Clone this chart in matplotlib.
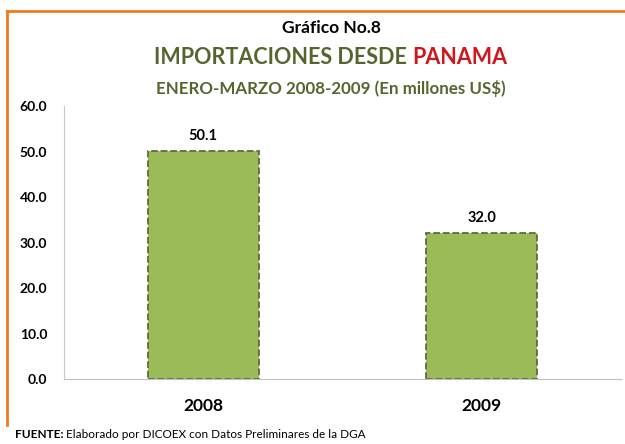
import matplotlib
matplotlib.use("Agg")
import matplotlib.pyplot as plt

plt.rcParams['font.family'] = ['Lato', 'DejaVu Sans']

years = ['2008', '2009']
valores = [50.1, 32.0]
yticks = [0, 10, 20, 30, 40, 50, 60]

verde = '#9BBB59'
verde_osc = '#56652E'

fig = plt.figure(figsize=(6.25, 4.44), dpi=100)
ax = fig.add_axes([64/625, 1-379/444, 557/625, 273/444])

x = range(len(years))
bars = ax.bar(x, valores, width=0.40, color=verde, edgecolor='#5C6B45',
              linewidth=1.3, linestyle='--')
for b, v in zip(bars, valores):
    ax.text(b.get_x() + b.get_width()/2, v + 1.8, f'{v:.1f}', ha='center',
            va='bottom', fontsize=10.5, fontweight='bold')

ax.set_xlim(-0.5, 1.5)
ax.set_ylim(0, 60)
ax.set_yticks(yticks)
ax.set_yticklabels([f'{t:.1f}' for t in yticks], fontsize=10, fontweight='bold')
ax.set_xticks(list(x))
ax.set_xticklabels(years, fontsize=12.5, fontweight='bold')
ax.tick_params(axis='y', length=0, pad=12)
ax.tick_params(axis='x', length=0, pad=14)
for s in ['top', 'right']:
    ax.spines[s].set_visible(False)
ax.spines['left'].set_color('#C8C8C8')
ax.spines['bottom'].set_color('#C0C0C0')

r = fig.canvas.get_renderer()
xc = 331 / 625  # centro de los titulos


def fila(partes, y, size, weight):
    # varios textos seguidos en una linea, centrados en xc
    ts = [fig.text(0, y, s, ha='left', va='center', fontsize=size,
                   fontweight=weight, color=c) for s, c in partes]
    ws = [t.get_window_extent(r).width / 625 for t in ts]
    x0 = xc - sum(ws) / 2
    for t, w in zip(ts, ws):
        t.set_x(x0)
        x0 += w
    return ts


fig.text(xc, 1-28/444, 'Gráfico No.8', ha='center', va='center',
         fontsize=12.5, fontweight='bold')
fila([('IMPORTACIONES DESDE ', verde_osc), ('PANAMA', '#D0161E')],
     1-57/444, 15.5, 'bold')
fig.text(xc, 1-88.5/444, 'ENERO-MARZO 2008-2009 (En millones US$)', ha='center',
         va='center', fontsize=12.2, fontweight='bold', color=verde_osc)

f1 = fig.text(15/625, 1-434/444, 'FUENTE: ', ha='left', va='center',
              fontsize=8.5, fontweight='bold')
w = f1.get_window_extent(r).width / 625
fig.text(15/625 + w, 1-434/444, 'Elaborado por DICOEX con Datos Preliminares de la DGA',
         ha='left', va='center', fontsize=8.5)

# marco naranja (arriba e izquierda)
fig.add_artist(plt.Line2D([7/625, 1], [1-11/444, 1-11/444], color='#F07B1E', lw=2))
fig.add_artist(plt.Line2D([7/625, 7/625], [1-11/444, 1-425/444], color='#F07B1E', lw=2))

fig.savefig('out.png', dpi=100)
